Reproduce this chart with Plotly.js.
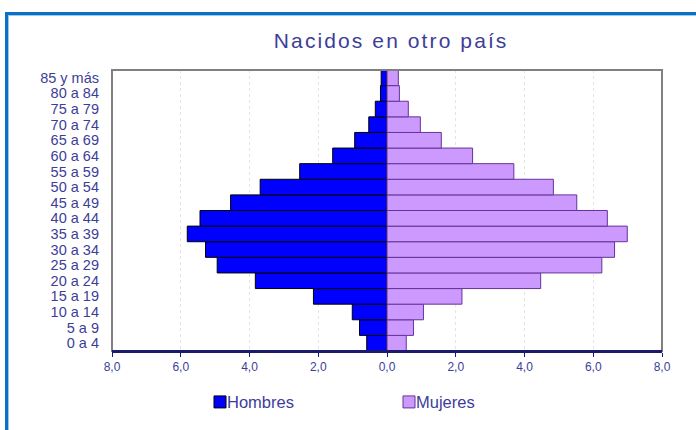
<!DOCTYPE html>
<html>
<head>
<meta charset="utf-8">
<script src="https://cdn.plot.ly/plotly-3.0.1.min.js"></script>
<style>
  html, body { margin: 0; padding: 0; background: #fff; }
  #wrap { position: relative; width: 696px; height: 430px; overflow: hidden; }
  #frame { position: absolute; left: 5px; top: 12px; width: 720px; height: 450px;
           border-left: 3px solid #0A70C4; border-top: 3px solid #0A70C4;
           box-shadow: inset 1px 1px 0 #9CC8EC; }
  #chart { position: absolute; left: 0; top: 0; width: 696px; height: 430px; }
  #chart .gtitle { letter-spacing: 2.1px; }
  #chart .legendtext { transform: translateX(-13px); }
</style>
</head>
<body>
<div id="wrap">
  <div id="frame"></div>
  <div id="chart"></div>
</div>
<script>
const categories = ["0 a 4","5 a 9","10 a 14","15 a 19","20 a 24","25 a 29","30 a 34","35 a 39",
  "40 a 44","45 a 49","50 a 54","55 a 59","60 a 64","65 a 69","70 a 74","75 a 79","80 a 84","85 y más"];
const hombres = [0.59,0.80,1.01,2.14,3.83,4.94,5.28,5.81,5.44,4.55,3.69,2.54,1.58,0.94,0.53,0.34,0.19,0.17];
const mujeres = [0.56,0.77,1.06,2.18,4.47,6.25,6.62,6.99,6.41,5.52,4.84,3.69,2.49,1.58,0.97,0.62,0.36,0.33];
const tickVals = [-8,-6,-4,-2,0,2,4,6,8];
const tickText = ["8,0","6,0","4,0","2,0","0,0","2,0","4,0","6,0","8,0"];

const txtColor = "#3D3D99";
const fontFam = "Liberation Sans, Arial, sans-serif";

const traces = [
  {
    type: "bar", orientation: "h", name: "Hombres",
    y: categories, x: hombres.map(v => -v),
    marker: { color: "#0000FF", line: { color: "#000000", width: 1 } },
    hoverinfo: "skip"
  },
  {
    type: "bar", orientation: "h", name: "Mujeres",
    y: categories, x: mujeres,
    marker: { color: "#CC99FF", line: { color: "#663399", width: 1 } },
    hoverinfo: "skip"
  }
];

const layout = {
  width: 696, height: 430,
  paper_bgcolor: "rgba(0,0,0,0)",
  plot_bgcolor: "#FFFFFF",
  margin: { l: 112, r: 34, t: 70, b: 78 },
  barmode: "overlay",
  bargap: 0,
  showlegend: true,
  font: { family: fontFam, color: txtColor },
  title: {
    text: "Nacidos en otro país",
    font: { family: fontFam, size: 21, color: txtColor },
    x: 0.562, xanchor: "center", y: 0.905, yanchor: "middle"
  },
  xaxis: {
    range: [-8, 8],
    tickvals: tickVals, ticktext: tickText,
    tickfont: { size: 12, color: txtColor },
    showgrid: true, gridcolor: "#E4E4E4", griddash: "dot", gridwidth: 1,
    zeroline: true, zerolinecolor: "#000000", zerolinewidth: 1.5,
    showline: true, linecolor: "#1A1A6E", linewidth: 2, mirror: false,
    ticks: "outside", ticklen: 4, tickcolor: "#1A1A6E",
    fixedrange: true
  },
  yaxis: {
    type: "category",
    categoryorder: "array", categoryarray: categories,
    tickmode: "array", tickvals: categories, ticktext: categories,
    tickfont: { size: 14.5, color: txtColor },
    showgrid: false, showline: false, ticks: "",
    ticklabelstandoff: 12,
    fixedrange: true
  },
  shapes: [
    { type: "rect", xref: "paper", yref: "paper", x0: 0, x1: 1, y0: 0, y1: 1,
      line: { color: "#808080", width: 2 }, fillcolor: "rgba(0,0,0,0)", layer: "above" },
    { type: "line", xref: "paper", yref: "paper", x0: 0, x1: 1, y0: 0, y1: 0,
      line: { color: "#1A1A6E", width: 2 }, layer: "above" }
  ],
  legend: {
    orientation: "h",
    x: 0.16, xanchor: "left", y: -0.178, yanchor: "middle",
    font: { size: 16.5, color: txtColor, family: fontFam },
    itemwidth: 30, entrywidth: 144, entrywidthmode: "pixels",
    traceorder: "normal",
    bgcolor: "rgba(0,0,0,0)"
  }
};

Plotly.newPlot("chart", traces, layout, { displayModeBar: false, staticPlot: true });
</script>
</body>
</html>
